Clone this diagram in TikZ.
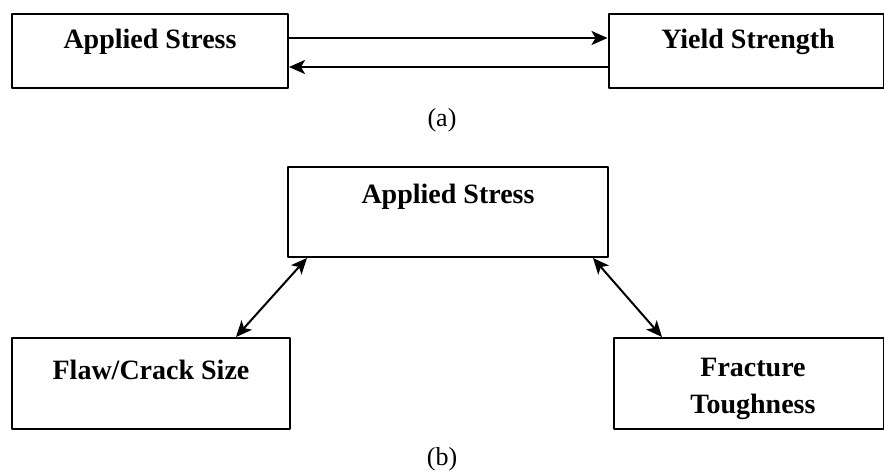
\documentclass[tikz,border=0pt]{standalone}
\usepackage{fontspec}
\setmainfont{Liberation Serif}
\usetikzlibrary{arrows.meta}
\tikzset{
	box/.style={draw, line width=2pt, inner sep=0pt, fill=white},
	boxtext/.style={font=\bfseries\fontsize{28}{37}\selectfont, align=center, inner sep=0pt},
	caption/.style={font=\fontsize{26}{30}\selectfont, inner sep=0pt}
}
\begin{document}
\begin{tikzpicture}[x=1pt, y=-1pt, >={Stealth[length=16pt,width=14pt,inset=4pt]}, line join=round]
	\useasboundingbox (0,0) rectangle (884,473);
	% (a)
	\node[box, minimum width=276pt, minimum height=74pt] (stressA) at (150,51) {};
	\node[box, minimum width=275pt, minimum height=74pt] (yield) at (746,51) {};
	\node[boxtext] (stressAtext) at (150,42) {Applied Stress};
	\node[boxtext] (yieldtext) at (748,42) {Yield Strength};
	\draw[->, line width=2.2pt] (stressA.east |- 0,38) -- (yield.west |- 0,38);
	\draw[->, line width=2.2pt] (yield.west |- 0,67) -- (stressA.east |- 0,67);
	\node[caption] (capA) at (442,120) {(a)};
	% (b)
	\node[box, minimum width=320pt, minimum height=90pt] (stressB) at (448,212) {};
	\node[box, minimum width=278pt, minimum height=91pt] (flaw) at (151,383.5) {};
	\node[box, minimum width=270pt, minimum height=91pt] (tough) at (749,383.5) {};
	\node[boxtext] (stressBtext) at (448,197) {Applied Stress};
	\node[boxtext] (flawtext) at (151,370) {Flaw/Crack Size};
	\node[boxtext] (toughtext) at (753,389) {Fracture\\Toughness};
	\draw[<->, line width=2pt] ([xshift=20pt]stressB.south west) -- ([xshift=-55pt]flaw.north east);
	\draw[<->, line width=2pt] ([xshift=-16pt]stressB.south east) -- ([xshift=49pt]tough.north west);
	\node[caption] (capB) at (442,459) {(b)};
\end{tikzpicture}
\end{document}
